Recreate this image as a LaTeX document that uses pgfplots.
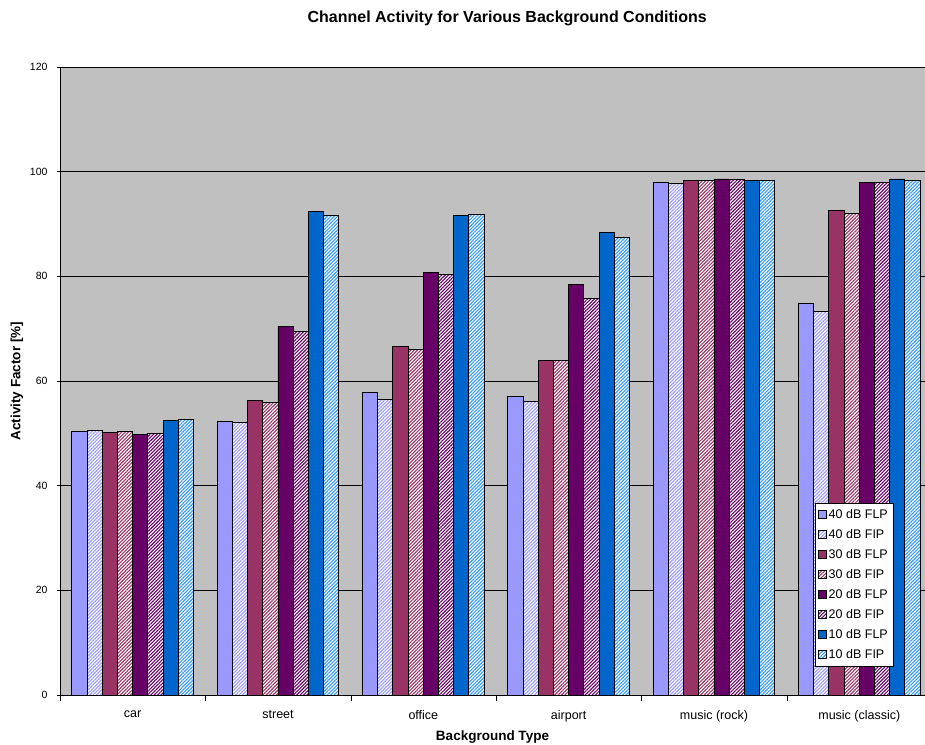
\documentclass[border=0pt]{standalone}
\usepackage{fontspec}
\setmainfont{Liberation Sans}
\usepackage{pgfplots}
\pgfplotsset{compat=1.18}
\usetikzlibrary{patterns.meta}

\definecolor{plotbg}{HTML}{C0C0C0}
\definecolor{c40}{HTML}{9999FF}
\definecolor{c30}{HTML}{993366}
\definecolor{c20}{HTML}{660066}
\definecolor{c10}{HTML}{0066CC}
\definecolor{c10l}{HTML}{3399FF}

\pgfplotsset{
  flp/.style={draw=black, line width=0.9pt, fill=#1},
  fip/.style={draw=black, line width=0.9pt, fill=white,
    postaction={pattern={Lines[angle=45,distance=2.4pt,line width=1.1pt]}, pattern color=#1}},
}

\begin{document}
\begin{tikzpicture}
\begin{axis}[
  at={(0,0)}, anchor=south west,
  scale only axis,
  width=865pt, height=628pt,
  ybar=0pt, bar width=15.2pt,
  xmin=-0.5, xmax=5.452,
  ymin=0, ymax=120,
  ytick={0,20,...,120},
  xtick={0,...,5},
  xticklabels={car,street,office,airport,music (rock),music (classic)},
  x tick style={draw=none},
  extra x ticks={-0.5,0.5,1.5,2.5,3.5,4.5},
  extra x tick labels={},
  extra x tick style={x tick style={draw=black}, major tick length=6pt, tick align=outside, grid=none},
  tick align=outside,
  major tick length=6pt,
  y tick style={black, line width=0.6pt},
  ymajorgrids=true,
  grid style={black, line width=0.7pt},
  axis lines=left,
  axis line style={-, black, line width=0.8pt},
  axis background/.style={fill=plotbg},
  yticklabel style={font=\fontsize{10.5}{12}\selectfont, xshift=-6pt},
  /pgf/number format/assume math mode=true,
  xticklabel style={font=\fontsize{12.5}{14}\selectfont, yshift=-9pt},
  xlabel={\textbf{Background Type}},
  ylabel={\textbf{Activity Factor [\%]}},
  label style={font=\fontsize{13.5}{15}\selectfont},
  xlabel style={at={(axis description cs:0.5,-0.0669)}, anchor=center},
  ylabel style={at={(axis description cs:-0.0497,0.5)}, anchor=center},
  title={\textbf{Channel Activity for Various Background Conditions}},
  every axis title shift=0pt,
  title style={at={(axis description cs:0.517,1.077)}, anchor=center, yshift=0pt, font=\fontsize{16}{18}\selectfont},
  legend style={at={(axis description cs:0.963,0.046)}, anchor=south east,
    draw=black, fill=white, font=\fontsize{12.5}{14}\selectfont,
    row sep=5.4pt, inner xsep=3pt, inner ysep=4pt},
  legend cell align=left,
  legend image code/.code={\draw[#1] (0pt,-4pt) rectangle (8pt,4pt);},
]
\addplot[flp=c40] coordinates {(0,50.4) (1,52.3) (2,57.8) (3,57.0) (4,98.0) (5,74.8)};
\addlegendentry{40 dB FLP}
\addplot[fip=c40] coordinates {(0,50.6) (1,52.0) (2,56.5) (3,56.0) (4,97.8) (5,73.3)};
\addlegendentry{40 dB FIP}
\addplot[flp=c30] coordinates {(0,50.2) (1,56.3) (2,66.6) (3,64.0) (4,98.4) (5,92.5)};
\addlegendentry{30 dB FLP}
\addplot[fip=c30] coordinates {(0,50.4) (1,55.9) (2,66.0) (3,64.0) (4,98.4) (5,92.1)};
\addlegendentry{30 dB FIP}
\addplot[flp=c20] coordinates {(0,49.8) (1,70.5) (2,80.8) (3,78.4) (4,98.6) (5,98.0)};
\addlegendentry{20 dB FLP}
\addplot[fip=c20] coordinates {(0,50.0) (1,69.5) (2,80.4) (3,75.8) (4,98.6) (5,98.0)};
\addlegendentry{20 dB FIP}
\addplot[flp=c10] coordinates {(0,52.5) (1,92.4) (2,91.7) (3,88.3) (4,98.4) (5,98.6)};
\addlegendentry{10 dB FLP}
\addplot[fip=c10l] coordinates {(0,52.7) (1,91.7) (2,91.8) (3,87.5) (4,98.4) (5,98.4)};
\addlegendentry{10 dB FIP}
\end{axis}
\pgfresetboundingbox
\path[use as bounding box] (-60pt,-49pt) rectangle (865pt,695pt);
\end{tikzpicture}
\end{document}
